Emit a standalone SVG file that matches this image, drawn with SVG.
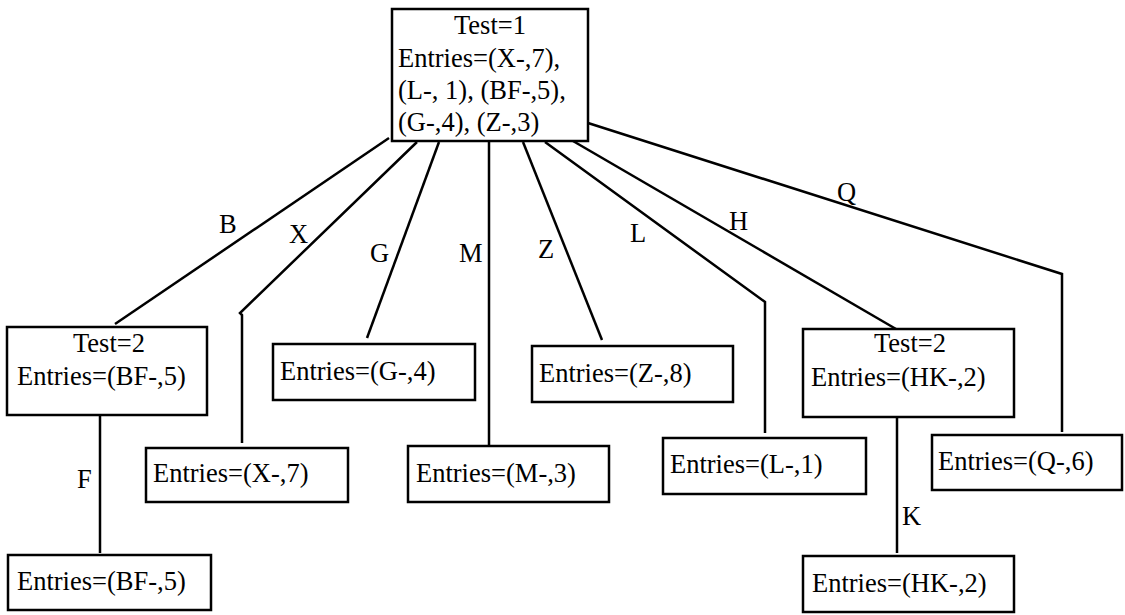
<svg xmlns="http://www.w3.org/2000/svg" width="1125" height="615" viewBox="0 0 1125 615">
  <style>
    .box { fill: #fff; stroke: #000; stroke-width: 2.5; }
    .edge { fill: none; stroke: #000; stroke-width: 2.5; stroke-linejoin: miter; }
    text { font-family: "Liberation Serif", "Times New Roman", serif; font-size: 26.5px; fill: #000; }
    .mid { text-anchor: middle; }
  </style>
  <rect width="1125" height="615" fill="#fff"/>

  <!-- connectors -->
  <g id="connectors">
    <polyline class="edge" points="389,138 115,324"/>
    <polyline class="edge" points="417,142 240,313 242,315 242,443"/>
    <polyline class="edge" points="439,142 367,338"/>
    <polyline class="edge" points="489,141 489,446"/>
    <polyline class="edge" points="523,142 602,340"/>
    <polyline class="edge" points="545,142 765,302 765,433"/>
    <polyline class="edge" points="573,141 896,329"/>
    <polyline class="edge" points="588,123 1062,274 1062,432"/>
    <polyline class="edge" points="100,415 100,553"/>
    <polyline class="edge" points="897,417 897,553"/>
    <text x="219" y="233">B</text>
    <text x="289" y="243">X</text>
    <text x="370" y="262">G</text>
    <text x="459" y="262">M</text>
    <text x="538" y="258">Z</text>
    <text x="630" y="242">L</text>
    <text x="729" y="230">H</text>
    <text x="837" y="201">Q</text>
    <text x="77" y="488">F</text>
    <text x="902" y="525">K</text>
  </g>

  <!-- root test node -->
  <g id="root">
    <rect class="box" x="392" y="9" width="196" height="132"/>
    <text class="mid" x="490" y="34">Test=1</text>
    <text x="398" y="67">Entries=(X-,7),</text>
    <text x="398" y="99">(L-, 1), (BF-,5),</text>
    <text x="398" y="131">(G-,4), (Z-,3)</text>
  </g>

  <g id="testB">
    <rect class="box" x="7" y="327" width="200" height="88"/>
    <text class="mid" x="109" y="352">Test=2</text>
    <text x="17" y="385">Entries=(BF-,5)</text>
  </g>

  <g id="leafBF">
    <rect class="box" x="8" y="555" width="203" height="55"/>
    <text x="17" y="590">Entries=(BF-,5)</text>
  </g>

  <g id="leafX">
    <rect class="box" x="146" y="448" width="202" height="54"/>
    <text x="153" y="482">Entries=(X-,7)</text>
  </g>

  <g id="leafG">
    <rect class="box" x="273" y="344" width="202" height="56"/>
    <text x="280" y="380">Entries=(G-,4)</text>
  </g>

  <g id="leafM">
    <rect class="box" x="408" y="446" width="201" height="56"/>
    <text x="416" y="482">Entries=(M-,3)</text>
  </g>

  <g id="leafZ">
    <rect class="box" x="532" y="346" width="201" height="56"/>
    <text x="539" y="382">Entries=(Z-,8)</text>
  </g>

  <g id="leafL">
    <rect class="box" x="663" y="438" width="203" height="56"/>
    <text x="670" y="473">Entries=(L-,1)</text>
  </g>

  <g id="testH">
    <rect class="box" x="803" y="329" width="211" height="88"/>
    <text class="mid" x="910" y="352">Test=2</text>
    <text x="811" y="386">Entries=(HK-,2)</text>
  </g>

  <g id="leafHK">
    <rect class="box" x="803" y="556" width="211" height="56"/>
    <text x="812" y="592">Entries=(HK-,2)</text>
  </g>

  <g id="leafQ">
    <rect class="box" x="932" y="435" width="190" height="55"/>
    <text x="938" y="470">Entries=(Q-,6)</text>
  </g>
</svg>
